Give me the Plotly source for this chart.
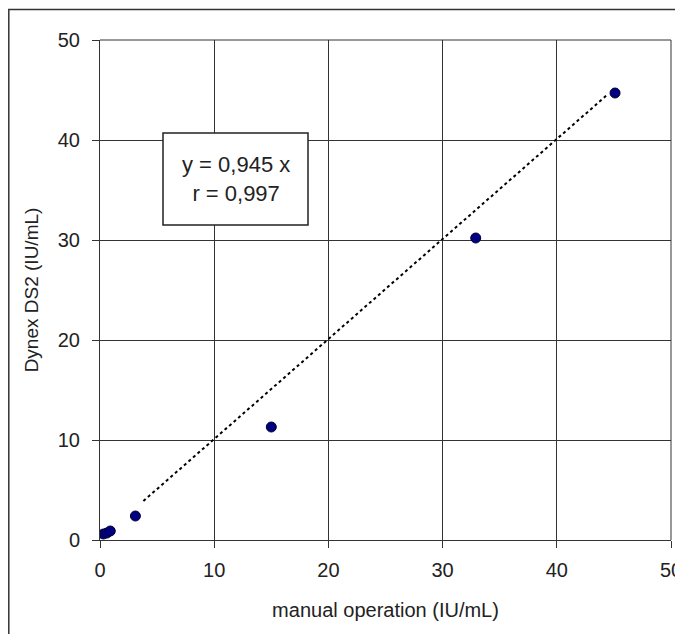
import plotly.graph_objects as go

# data
manual = [0.3, 0.6, 0.9, 3.1, 15.0, 32.9, 45.1]
dynex = [0.6, 0.7, 0.9, 2.4, 11.3, 30.2, 44.7]
trend_x = [3.8, 44.4]
trend_y = [3.9, 44.5]
tick_vals = [0, 10, 20, 30, 40, 50]
eq_text = "y = 0,945 x<br>r = 0,997"

font = "Liberation Sans, Arial, sans-serif"

fig = go.Figure()
fig.add_trace(go.Scatter(x=trend_x, y=trend_y, mode="lines",
                         line=dict(color="black", width=2, dash="dot"),
                         hoverinfo="skip", showlegend=False))
fig.add_trace(go.Scatter(x=manual, y=dynex, mode="markers",
                         marker=dict(color="#000080", size=10,
                                     line=dict(color="#000033", width=1)),
                         showlegend=False))

axis_common = dict(range=[0, 50], tickvals=tick_vals, showgrid=True,
                   gridcolor="#333333", gridwidth=1, zeroline=False,
                   showline=True, linecolor="#333333", linewidth=1,
                   ticks="outside", ticklen=7, tickcolor="#333333",
                   tickfont=dict(family=font, size=20, color="#222222"),
                   ticklabeloverflow="allow", automargin=False,
                   fixedrange=True)

# figure sized to fit inside the window next to the page's 8px body margin
fig.update_layout(
    width=675, height=626,
    margin=dict(l=92, r=12, t=32, b=94),
    paper_bgcolor="white", plot_bgcolor="white",
    xaxis=dict(**axis_common, ticklabelstandoff=5,
               title=dict(text="manual operation (IU/mL)",
                          font=dict(family=font, size=20, color="#222222"),
                          standoff=22)),
    yaxis=dict(**axis_common, ticklabelstandoff=8,
               title=dict(text="Dynex DS2 (IU/mL)",
                          font=dict(family=font, size=19, color="#222222"),
                          standoff=14)),
)
# equation box, in pixel-derived paper coordinates
px0, px1, py0, py1 = 163, 308, 133, 225
def xp(px): return (px - 100) / 571
def yp(py): return (540 - py) / 500
fig.add_annotation(x=xp((px0 + px1) / 2), y=yp((py0 + py1) / 2), xref="paper", yref="paper",
                   xanchor="center", yanchor="middle",
                   text=eq_text, showarrow=False, align="center",
                   font=dict(family=font, size=22, color="#222222"))
fig.add_shape(type="rect", xref="paper", yref="paper",
              x0=xp(px0), x1=xp(px1), y0=yp(py1), y1=yp(py0),
              line=dict(color="#222222", width=1.5), fillcolor="white", layer="above")
fig.add_shape(type="line", xref="paper", yref="paper", x0=1, x1=1, y0=0, y1=1,
              line=dict(color="#333333", width=1))
fig.add_shape(type="line", xref="paper", yref="paper", x0=0, x1=1, y0=1, y1=1,
              line=dict(color="#333333", width=1))
# outer chart frame
fig.add_shape(type="rect", xref="paper", yref="paper",
              x0=xp(8.8), x1=xp(720), y0=yp(700), y1=yp(9.5),
              line=dict(color="#333333", width=1.5), fillcolor="rgba(0,0,0,0)")

fig.write_html("out.html")
